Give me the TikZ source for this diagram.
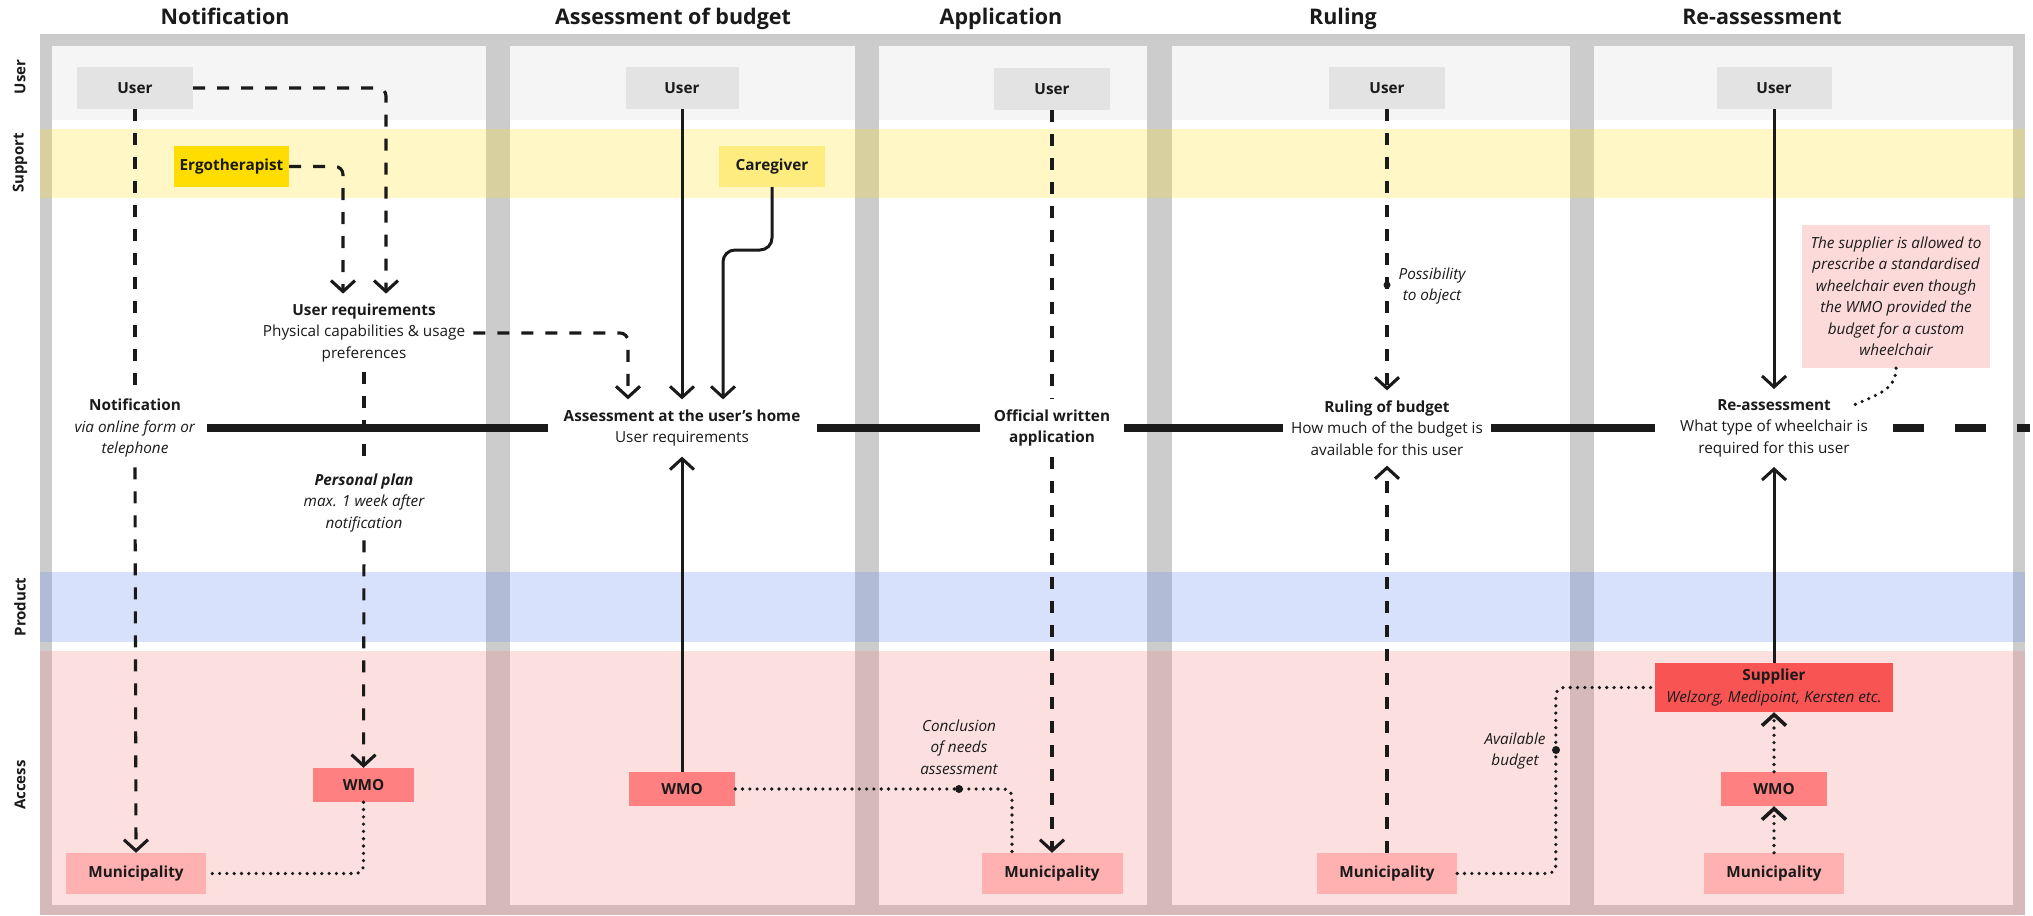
\documentclass[tikz,border=0pt]{standalone}
\usepackage{fontspec}
\setmainfont{Open Sans}
\usetikzlibrary{arrows.meta}
\definecolor{framegray}{HTML}{CCCCCC}
\definecolor{userlane}{HTML}{F5F5F5}
\definecolor{userbox}{HTML}{E3E3E3}
\definecolor{suppband}{HTML}{FFE31B}
\definecolor{prodband}{HTML}{638BF3}
\definecolor{accband}{HTML}{F78383}
\definecolor{ergo}{HTML}{FFDD00}
\definecolor{caregiver}{HTML}{FFEC7F}
\definecolor{wmo}{HTML}{FF8080}
\definecolor{muni}{HTML}{FFB0B0}
\definecolor{supplier}{HTML}{F95454}
\definecolor{notefill}{HTML}{FDDADA}
\definecolor{ink}{HTML}{1A1A1A}
\begin{document}
\begin{tikzpicture}[x=1pt,y=-1pt,
  every node/.style={text=ink, font=\fontsize{15.3}{21.5}\selectfont},
  box/.style={inner sep=0pt, minimum width=116pt, minimum height=42pt, font=\fontsize{15.3}{21.5}\selectfont\bfseries},
  ms/.style={align=center, inner ysep=10pt, inner xsep=12pt},
  lbl/.style={align=center, inner ysep=8pt, inner xsep=4pt, font=\fontsize{15.3}{21.5}\selectfont\itshape},
  title/.style={font=\fontsize{21.5}{26}\selectfont\bfseries, anchor=base},
  lane/.style={rotate=90, font=\fontsize{15}{18}\selectfont\bfseries},
  arr/.style={-{Straight Barb[length=11pt,width=24pt]}},
  sol/.style={draw=ink, line width=3pt},
  dsh/.style={draw=ink, line width=3.1pt, dash pattern=on 12pt off 12pt},
  dot/.style={draw=ink, line width=3.6pt, line cap=round, dash pattern=on 0pt off 7.3pt},
  tl/.style={draw=ink, line width=8.5pt}
]
\useasboundingbox (0,0) rectangle (2033,915);
% ---------- background ----------
\fill[white] (0,0) rectangle (2033,915);
\fill[framegray] (40,34) rectangle (2025,915);
\foreach \a/\b in {52/486, 510/855, 879/1147, 1172/1570, 1594/2013}{
  \fill[white] (\a,46) rectangle (\b,905);
  \fill[userlane] (\a,46) rectangle (\b,120);
}
\fill[suppband, opacity=0.25] (40,129) rectangle (2025,198);
\fill[prodband, opacity=0.25] (40,572) rectangle (2025,642);
\fill[accband, opacity=0.25] (40,651) rectangle (2025,915);
% ---------- lane labels ----------
\node[lane] (lu) at (20,77) {User};
\node[lane] (ls) at (20,163) {Support};
\node[lane] (lp) at (20,607) {Product};
\node[lane] (la) at (20,785) {Access};
% ---------- titles ----------
\node[title] (t1) at (225,25) {Notification};
\node[title] (t2) at (673,25) {Assessment of budget};
\node[title] (t3) at (1001,25) {Application};
\node[title] (t4) at (1343,25) {Ruling};
\node[title] (t5) at (1762,25) {Re-assessment};
% ---------- column 1 ----------
\node[box, fill=userbox] (u1) at (135,88) {User};
\node[box, fill=ergo, minimum width=115pt, minimum height=41pt] (ergo) at (231.5,166.5) {Ergotherapist};
\node[ms, inner xsep=8pt] (ureq) at (364,333) {\textbf{User requirements}\\Physical capabilities \& usage\\preferences};
\node[ms, inner xsep=11pt] (notif) at (135,428) {\textbf{Notification}\\\textit{via online form or}\\\textit{telephone}};
\node[lbl] (pplan) at (364,503) {\textbf{Personal plan}\\max. 1 week after\\notification};
\node[box, fill=wmo, minimum width=101pt, minimum height=34pt] (w1) at (363.5,785) {WMO};
\node[box, fill=muni, minimum width=140pt, minimum height=41pt] (m1) at (136,873.5) {Municipality};
% ---------- column 2 ----------
\node[box, fill=userbox, minimum width=113pt] (u2) at (682,88) {User};
\node[box, fill=caregiver, minimum width=106pt, minimum height=41pt] (cg) at (772,166.5) {Caregiver};
\node[ms, inner xsep=16pt] (assess) at (682,428) {\textbf{Assessment at the user's home}\\User requirements};
\node[box, fill=wmo, minimum width=106pt, minimum height=34pt] (w2) at (682,789) {WMO};
\node[lbl] (concl) at (959,747) {Conclusion\\of needs\\assessment};
\coordinate (cdot) at (959,789);
% ---------- column 3 ----------
\node[box, fill=userbox] (u3) at (1052,89) {User};
\node[ms, inner xsep=14pt] (app) at (1052,428) {\textbf{Official written}\\\textbf{application}};
\node[box, fill=muni, minimum width=141pt, minimum height=41pt] (m3) at (1052,873.5) {Municipality};
% ---------- column 4 ----------
\node[box, fill=userbox] (u4) at (1387,88) {User};
\coordinate (pdot) at (1387,285);
\node[lbl] (poss) at (1432,286) {Possibility\\to object};
\node[ms, inner xsep=8pt] (ruling) at (1387,428) {\textbf{Ruling of budget}\\How much of the budget is\\available for this user};
\node[box, fill=muni, minimum width=140pt, minimum height=41pt] (m4) at (1387,873.5) {Municipality};
\node[lbl] (abud) at (1515,751) {Available\\budget};
\coordinate (adot) at (1556,750);
% ---------- column 5 ----------
\node[box, fill=userbox, minimum width=115pt] (u5) at (1774,88) {User};
\node[fill=notefill, minimum width=188pt, minimum height=143pt, inner xsep=6pt, align=center, font=\fontsize{15.3}{21.5}\selectfont\itshape] (note) at (1896,296.5) {The supplier is allowed to\\prescribe a standardised\\wheelchair even though\\the WMO provided the\\budget for a custom\\wheelchair};
\node[ms, inner xsep=25pt] (reas) at (1774,428) {\textbf{Re-assessment}\\What type of wheelchair is\\required for this user};
\node[box, fill=supplier, minimum width=238pt, minimum height=49pt, align=center, font=\fontsize{15.3}{21.5}\selectfont] (supp) at (1774,687.5) {\textbf{Supplier}\\\textit{Welzorg, Medipoint, Kersten etc.}};
\node[box, fill=wmo, minimum width=106pt, minimum height=34pt] (w5) at (1774,789) {WMO};
\node[box, fill=muni, minimum width=140pt, minimum height=41pt] (m5) at (1774,873.5) {Municipality};
\coordinate (tlend) at (2030,428);
% ---------- timeline ----------
\draw[tl] (notif.east) -- (assess.west);
\draw[tl] (assess.east) -- (app.west);
\draw[tl] (app.east) -- (ruling.west);
\draw[tl] (ruling.east) -- (reas.west);
\draw[tl, dash pattern=on 31pt off 31pt] (reas.east) -- (tlend);
% ---------- connectors column 1 ----------
\draw[dsh, arr, rounded corners=8pt] (u1.east) -| ([xshift=22pt]ureq.north);
\draw[dsh, arr, rounded corners=8pt] (ergo.east) -| ([xshift=-21pt]ureq.north);
\draw[dsh, arr, rounded corners=8pt] (ureq.east) -| ([xshift=-54pt]assess.north);
\draw[dsh] (ureq.south) -- (pplan.north);
\draw[dsh, arr] (pplan.south) -- (w1.north);
\draw[dsh] (u1.south) -- (notif.north);
\draw[dsh, arr] (notif.south) -- (m1.north);
\draw[dot, rounded corners=8pt] (w1.south) |- (m1.east);
% ---------- connectors column 2 ----------
\draw[sol, arr] (u2.south) -- (assess.north);
\draw[sol, arr, rounded corners=12pt] (cg.south) -- (772,250) -- (723,250) -- ([xshift=41pt]assess.north);
\draw[sol, arr] (w2.north) -- (assess.south);
\draw[dot, rounded corners=8pt] (w2.east) -| ([xshift=-40pt]m3.north);
\fill[ink] (cdot) circle (4pt);
% ---------- connectors column 3 ----------
\draw[dsh] (u3.south) -- (app.north);
\draw[dsh, arr] (app.south) -- (m3.north);
% ---------- connectors column 4 ----------
\draw[dsh, arr] (u4.south) -- (ruling.north);
\fill[ink] (pdot) circle (3.5pt);
\draw[dsh, arr] (m4.north) -- (ruling.south);
\draw[dot, rounded corners=8pt] (m4.east) -| ([xshift=-99pt]supp.west) -- (supp.west);
\fill[ink] (adot) circle (4pt);
% ---------- connectors column 5 ----------
\draw[sol, arr] (u5.south) -- (reas.north);
\draw[sol, arr] (supp.north) -- (reas.south);
\draw[dot, arr] (w5.north) -- (supp.south);
\draw[dot, arr] (m5.north) -- (w5.south);
\draw[dot] (note.south) .. controls +(0,22) and +(22,-10) .. ([xshift=80pt,yshift=-16pt]reas.north);
\end{tikzpicture}
\end{document}
